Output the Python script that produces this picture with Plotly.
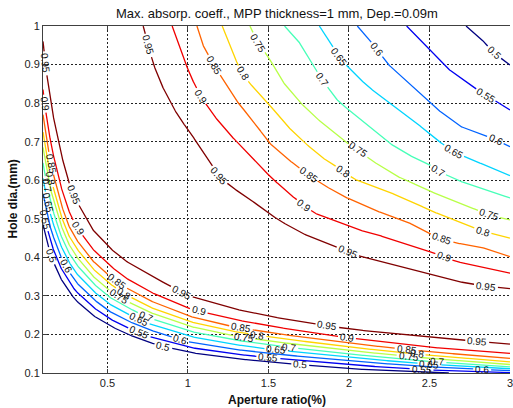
import numpy as np
import plotly.graph_objects as go

# ---- contour levels and colours (jet colormap over 0.5 .. 0.95) ----
levels = [0.5, 0.55, 0.6, 0.65, 0.7, 0.75, 0.8, 0.85, 0.9, 0.95]
level_colors = ["#000080", "#0000F1", "#0063FF", "#00D4FF", "#47FFB8",
                "#B8FF47", "#FFD400", "#FF6300", "#F10000", "#800000"]

x_ticks = [0.5, 1, 1.5, 2, 2.5, 3]
x_tick_text = ["0.5", "1", "1.5", "2", "2.5", "3"]
y_ticks = [0.1, 0.2, 0.3, 0.4, 0.5, 0.6, 0.7, 0.8, 0.9, 1.0]
y_tick_text = ["0.1", "0.2", "0.3", "0.4", "0.5", "0.6", "0.7", "0.8", "0.9", "1"]

# ---- upper-right branch of each iso-line (aperture ratio %, hole dia mm) ----
up_95_x = [0.722, 0.755, 0.783, 0.831, 0.893, 0.954, 1.016, 1.077, 1.128, 1.190, 1.250, 1.330, 1.416, 1.559, 1.703, 1.867, 2.032, 2.152, 2.358, 2.501, 2.666, 2.850, 3.000]
up_95_y = [1.000, 0.950, 0.904, 0.852, 0.800, 0.757, 0.723, 0.683, 0.653, 0.612, 0.590, 0.565, 0.541, 0.498, 0.463, 0.437, 0.407, 0.394, 0.372, 0.355, 0.338, 0.325, 0.319]
up_90_x = [0.902, 0.954, 1.016, 1.077, 1.149, 1.251, 1.375, 1.498, 1.621, 1.785, 1.908, 2.052, 2.152, 2.358, 2.501, 2.666, 2.809, 3.000]
up_90_y = [1.000, 0.938, 0.870, 0.820, 0.774, 0.722, 0.670, 0.615, 0.567, 0.515, 0.495, 0.472, 0.462, 0.433, 0.415, 0.389, 0.376, 0.359]
up_85_x = [1.056, 1.087, 1.160, 1.231, 1.313, 1.416, 1.498, 1.600, 1.682, 1.826, 1.947, 2.152, 2.358, 2.491, 2.666, 2.809, 3.000]
up_85_y = [1.000, 0.955, 0.900, 0.852, 0.800, 0.748, 0.700, 0.661, 0.635, 0.592, 0.562, 0.523, 0.493, 0.463, 0.437, 0.428, 0.402]
up_80_x = [1.213, 1.262, 1.310, 1.382, 1.498, 1.600, 1.703, 1.826, 1.960, 2.032, 2.150, 2.255, 2.400, 2.500, 2.686, 2.830, 3.000]
up_80_y = [1.000, 0.946, 0.900, 0.852, 0.800, 0.748, 0.705, 0.661, 0.625, 0.603, 0.585, 0.568, 0.543, 0.522, 0.492, 0.468, 0.450]
up_75_x = [1.385, 1.436, 1.498, 1.580, 1.682, 1.785, 1.888, 1.990, 2.057, 2.134, 2.298, 2.360, 2.480, 2.600, 2.686, 2.870, 3.000]
up_75_y = [1.000, 0.955, 0.921, 0.860, 0.808, 0.765, 0.731, 0.696, 0.679, 0.653, 0.610, 0.600, 0.575, 0.556, 0.541, 0.510, 0.497]
up_70_x = [1.600, 1.682, 1.768, 1.834, 1.908, 1.947, 2.100, 2.237, 2.358, 2.501, 2.550, 2.666, 2.809, 3.000]
up_70_y = [1.000, 0.964, 0.904, 0.861, 0.817, 0.800, 0.748, 0.700, 0.668, 0.640, 0.625, 0.601, 0.580, 0.554]
up_65_x = [1.816, 1.888, 1.935, 2.011, 2.117, 2.255, 2.399, 2.543, 2.650, 2.750, 2.871, 3.000]
up_65_y = [1.000, 0.955, 0.920, 0.886, 0.843, 0.800, 0.756, 0.705, 0.675, 0.655, 0.635, 0.612]
up_60_x = [2.052, 2.175, 2.237, 2.380, 2.530, 2.688, 2.811, 2.910, 3.000]
up_60_y = [1.000, 0.940, 0.903, 0.848, 0.790, 0.740, 0.722, 0.705, 0.687]
up_55_x = [2.358, 2.501, 2.625, 2.768, 2.850, 2.932, 3.000]
up_55_y = [1.000, 0.938, 0.886, 0.843, 0.820, 0.800, 0.782]
up_50_x = [2.727, 2.809, 2.900, 3.000]
up_50_y = [1.000, 0.972, 0.930, 0.899]

# ---- lower-left branch of each iso-line ----
low_x = [0.10, 0.12, 0.15, 0.20, 0.25, 0.30, 0.40, 0.50, 0.60, 0.75, 1.00, 1.25, 1.50, 2.00, 2.50, 3.00]
low_95_y = [0.960, 0.885, 0.795, 0.690, 0.607, 0.553, 0.476, 0.430, 0.394, 0.357, 0.301, 0.270, 0.247, 0.214, 0.193, 0.175]
low_90_y = [0.835, 0.770, 0.692, 0.600, 0.530, 0.485, 0.425, 0.384, 0.350, 0.313, 0.268, 0.242, 0.222, 0.191, 0.167, 0.151]
low_85_y = [0.770, 0.712, 0.640, 0.555, 0.490, 0.450, 0.394, 0.357, 0.325, 0.290, 0.248, 0.223, 0.205, 0.177, 0.155, 0.138]
low_80_y = [0.725, 0.670, 0.603, 0.523, 0.464, 0.428, 0.374, 0.336, 0.307, 0.273, 0.234, 0.210, 0.194, 0.167, 0.146, 0.129]
low_75_y = [0.685, 0.635, 0.572, 0.497, 0.442, 0.406, 0.355, 0.318, 0.291, 0.259, 0.222, 0.199, 0.183, 0.158, 0.138, 0.122]
low_70_y = [0.645, 0.597, 0.538, 0.468, 0.419, 0.385, 0.337, 0.300, 0.275, 0.244, 0.209, 0.188, 0.173, 0.149, 0.130, 0.116]
low_65_y = [0.605, 0.560, 0.505, 0.440, 0.396, 0.362, 0.317, 0.282, 0.258, 0.229, 0.196, 0.176, 0.162, 0.140, 0.123, 0.111]
low_60_y = [0.565, 0.523, 0.471, 0.411, 0.371, 0.338, 0.296, 0.263, 0.240, 0.213, 0.181, 0.163, 0.151, 0.131, 0.116, 0.106]
low_55_y = [0.525, 0.486, 0.437, 0.381, 0.345, 0.314, 0.274, 0.244, 0.222, 0.196, 0.167, 0.151, 0.140, 0.121, 0.108, 0.101]
low_50_x = [0.10, 0.12, 0.15, 0.20, 0.25, 0.30, 0.40, 0.50, 0.60, 0.75, 1.00, 1.25, 1.50, 2.00, 2.50, 2.62]
low_50_y = [0.485, 0.449, 0.404, 0.352, 0.319, 0.290, 0.252, 0.226, 0.205, 0.180, 0.154, 0.139, 0.129, 0.111, 0.102, 0.100]

# ---- where the inline value labels sit (aperture ratio along each branch) ----
up_label_x = {0.95: [0.755, 1.19, 1.99, 2.85], 0.9: [1.08, 1.72, 2.59],
              0.85: [1.165, 1.75, 2.58], 0.8: [1.344, 1.965, 2.83],
              0.75: [1.436, 2.057, 2.87], 0.7: [1.834, 2.55],
              0.65: [1.935, 2.65], 0.6: [2.175, 2.91], 0.55: [2.85], 0.5: [2.90]}
low_label_x = {0.95: [0.115, 0.291, 0.962, 1.867, 2.797], 0.9: [0.111, 0.316, 1.067, 1.99],
               0.85: [0.149, 0.562, 1.33, 2.36], 0.8: [0.149, 0.60, 1.43, 2.42],
               0.75: [0.574, 1.35, 2.37], 0.7: [0.125, 0.74, 1.63, 2.55],
               0.65: [0.13, 0.70, 1.55, 2.5], 0.6: [0.24, 0.95, 2.83],
               0.55: [0.115, 0.70, 1.5, 2.45], 0.5: [0.15, 0.85, 1.7]}

upper = {0.95: (up_95_x, up_95_y), 0.9: (up_90_x, up_90_y), 0.85: (up_85_x, up_85_y),
         0.8: (up_80_x, up_80_y), 0.75: (up_75_x, up_75_y), 0.7: (up_70_x, up_70_y),
         0.65: (up_65_x, up_65_y), 0.6: (up_60_x, up_60_y), 0.55: (up_55_x, up_55_y),
         0.5: (up_50_x, up_50_y)}
lower = {0.95: (low_x, low_95_y), 0.9: (low_x, low_90_y), 0.85: (low_x, low_85_y),
         0.8: (low_x, low_80_y), 0.75: (low_x, low_75_y), 0.7: (low_x, low_70_y),
         0.65: (low_x, low_65_y), 0.6: (low_x, low_60_y), 0.55: (low_x, low_55_y),
         0.5: (low_50_x, low_50_y)}

# figure geometry (pixels) used to place labels along lines
W, H = 513, 408
ML, MR, MT, MB = 43, 0, 26, 35
X0, X1, Y0, Y1 = 0.1, 3.0, 0.1, 1.0
SX = (W - ML - MR) / (X1 - X0)
SY = (H - MT - MB) / (Y1 - Y0)
LABEL_SIZE = 10
FONT = "Liberation Sans, Arial, Helvetica, sans-serif"


def label_text(v):
    return ("%.2f" % v).rstrip("0")


def densify(xs, ys):
    xs = np.asarray(xs, float)
    ys = np.asarray(ys, float)
    px, py = (xs - X0) * SX, (ys - Y0) * SY
    ox, oy = [], []
    for i in range(len(xs) - 1):
        n = max(2, int(np.hypot(px[i + 1] - px[i], py[i + 1] - py[i])))
        t = np.linspace(0, 1, n, endpoint=False)
        ox.append(xs[i] + t * (xs[i + 1] - xs[i]))
        oy.append(ys[i] + t * (ys[i + 1] - ys[i]))
    ox.append([xs[-1]])
    oy.append([ys[-1]])
    return np.concatenate(ox), np.concatenate(oy)


fig = go.Figure()
annotations = []

for lev, col in zip(levels, level_colors):
    for branch, lab_x in ((upper, up_label_x), (lower, low_label_x)):
        xs, ys = branch[lev]
        dx, dy = densify(xs, ys)
        ppx, ppy = (dx - X0) * SX, (dy - Y0) * SY
        txt = label_text(lev)
        half_w = (0.556 * (len(txt) - 1) + 0.278) * LABEL_SIZE / 2 + 1.5
        keep = np.ones(len(dx), bool)
        for lx in lab_x.get(lev, []):
            ly = float(np.interp(lx, xs, ys))
            cx, cy = (lx - X0) * SX, (ly - Y0) * SY
            i = int(np.argmin(np.hypot(ppx - cx, ppy - cy)))
            j0, j1 = max(0, i - 5), min(len(dx) - 1, i + 5)
            ang = -np.degrees(np.arctan2(ppy[j1] - ppy[j0], ppx[j1] - ppx[j0]))
            if ang > 90:
                ang -= 180
            if ang < -90:
                ang += 180
            keep &= np.hypot(ppx - ppx[i], ppy - ppy[i]) > half_w
            annotations.append(dict(x=dx[i], y=dy[i], xref="x", yref="y", text=txt,
                                    showarrow=False, textangle=ang,
                                    xanchor="center", yanchor="middle",
                                    font=dict(size=LABEL_SIZE, color="#111111", family=FONT)))
        lx_plot = np.where(keep, dx, np.nan)
        ly_plot = np.where(keep, dy, np.nan)
        fig.add_trace(go.Scatter(x=lx_plot, y=ly_plot, mode="lines",
                                 line=dict(color=col, width=1.3),
                                 connectgaps=False, showlegend=False, hoverinfo="skip"))

# title and axis titles
annotations.append(dict(text="Max. absorp. coeff., MPP thickness=1 mm, Dep.=0.09m",
                        xref="paper", yref="paper", x=0.5, y=1, yshift=13,
                        xanchor="center", yanchor="middle", showarrow=False,
                        font=dict(size=13, color="#111111", family=FONT)))
annotations.append(dict(text="<b>Aperture ratio(%)</b>", xref="paper", yref="paper",
                        x=0.5, y=0, yshift=-18, xanchor="center", yanchor="top",
                        showarrow=False, font=dict(size=12, color="#111111", family=FONT)))
annotations.append(dict(text="<b>Hole dia.(mm)</b>", xref="paper", yref="paper",
                        x=0, y=0.5, xshift=-31, xanchor="center", yanchor="middle",
                        textangle=-90, showarrow=False,
                        font=dict(size=12, color="#111111", family=FONT)))

grid = dict(showgrid=True, gridcolor="#222222", gridwidth=1, griddash="2px,2px",
            zeroline=False, showline=True, linecolor="#404040", linewidth=1,
            ticks="inside", ticklen=4, tickcolor="#404040",
            ticklabeloverflow="allow",
            tickfont=dict(size=11, color="#222222", family=FONT))

fig.update_layout(
    width=W, height=H,
    margin=dict(l=ML, r=MR, t=MT, b=MB),
    paper_bgcolor="white", plot_bgcolor="white",
    hovermode=False,
    annotations=annotations,
    xaxis=dict(range=[X0, X1], tickvals=x_ticks, ticktext=x_tick_text,
               mirror="ticks", **grid),
    yaxis=dict(range=[Y0, Y1], tickvals=y_ticks, ticktext=y_tick_text, **grid),
)

fig.write_html("out.html")
